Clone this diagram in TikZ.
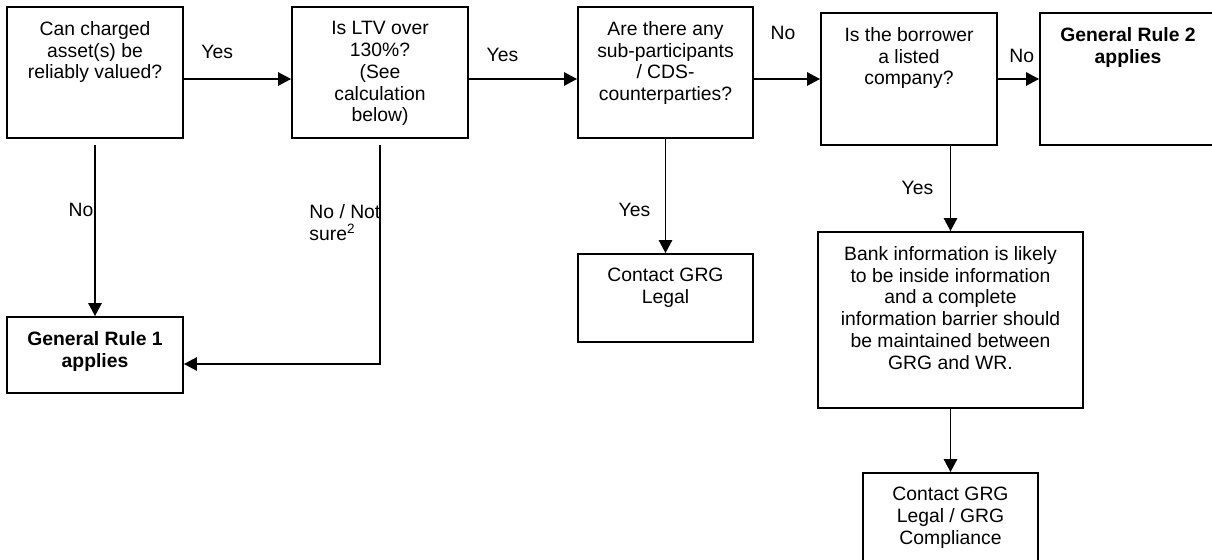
\documentclass[tikz,border=0pt]{standalone}
\usepackage{fontspec}
\setmainfont{Liberation Sans}
\usetikzlibrary{arrows.meta}

\begin{document}
\begin{tikzpicture}[box/.style={draw,line width=1.1pt,minimum width=3.52cm,minimum height=2.62cm,inner sep=0pt},
  txt/.style={anchor=north,align=center,inner sep=0pt,yshift=-0.30cm},
  lbl/.style={inner sep=1pt},
  line/.style={->,line width=0.8pt},
  >={Triangle[length=0.26cm,width=0.27cm]},
  font=\fontsize{11}{12.4}\selectfont]
\useasboundingbox (0,0) rectangle (24.24,-11.2);
\node[box,label={[txt]north:{Can charged\\asset(s) be\\reliably valued?}}] (val) at (1.90,-1.45) {};
\node[box,label={[txt]north:{Is LTV over\\130\%?\\(See\\calculation\\below)}}] (ltv) at (7.60,-1.45) {};
\node[box,minimum width=3.50cm,label={[txt]north:{Are there any\\sub-participants\\/ CDS-\\counterparties?}}] (subp) at (13.31,-1.45) {};
\node[box,minimum height=2.64cm,label={[txt]north:{Is the borrower\\a listed\\company?}}] (listed) at (18.18,-1.58) {};
\node[box,minimum height=2.64cm,label={[txt]north:{\bfseries General Rule 2\\\bfseries applies}}] (rule2) at (22.56,-1.58) {};
\node[box,minimum height=1.52cm,label={[txt]north:{\bfseries General Rule 1\\\bfseries applies}}] (rule1) at (1.90,-7.10) {};
\node[box,minimum width=3.50cm,minimum height=1.76cm,label={[txt]north:{Contact GRG\\Legal}}] (legal) at (13.31,-5.96) {};
\node[box,minimum width=5.30cm,minimum height=3.52cm,label={[txt]north:{Bank information is likely\\to be inside information\\and a complete\\information barrier should\\be maintained between\\GRG and WR.}}] (barrier) at (19.01,-6.40) {};
\node[box,minimum width=3.50cm,minimum height=1.80cm,label={[txt]north:{Contact GRG\\Legal / GRG\\Compliance}}] (compl) at (19.01,-10.36) {};
\draw[line] ([yshift=-0.13cm]val.east) -- node[lbl,pos=.31,yshift=0.54cm]{Yes} ([yshift=-0.13cm]ltv.west);
\draw[line] ([yshift=-0.13cm]ltv.east) -- node[lbl,pos=.31,yshift=0.48cm]{Yes} ([yshift=-0.13cm]subp.west);
\draw[line] (listed.west -| subp.east) -- node[lbl,pos=.44,yshift=0.92cm]{No} (listed.west);
\draw[line] (listed.east) -- node[lbl,pos=.58,yshift=0.46cm]{No} (rule2.west);
\draw[line,shorten <=0.12cm] (val.south) -- node[lbl,pos=.40,xshift=-0.28cm]{No} (rule1.north);
\draw[line,shorten <=0.12cm] (ltv.south) |- node[lbl,pos=.185,anchor=west,align=left,xshift=-1.46cm]{No / Not\\sure\textsuperscript{2}} ([yshift=-0.18cm]rule1.east);
\draw[line] (subp.south) -- node[lbl,pos=.62,xshift=-0.62cm]{Yes} (legal.north);
\draw[line] (barrier.north |- listed.south) -- node[lbl,pos=.49,xshift=-0.66cm]{Yes} (barrier.north);
\draw[line] (barrier) -- (compl);
\end{tikzpicture}
\end{document}
